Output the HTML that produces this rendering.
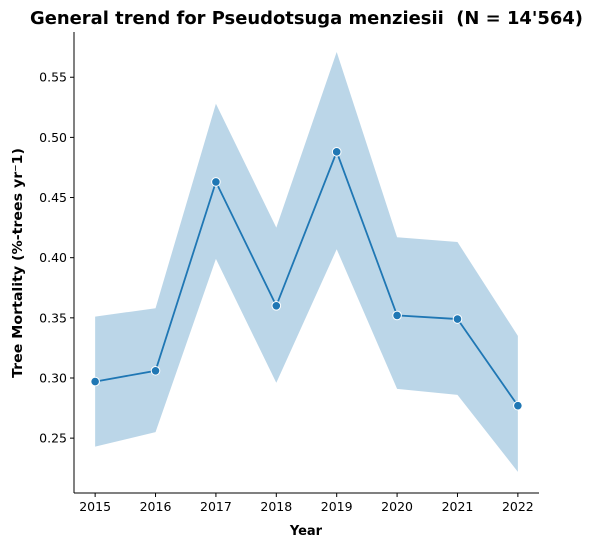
<!DOCTYPE html>
<html><head><meta charset="utf-8"><style>
body{margin:0;background:#fff;}
svg text{font-family:"DejaVu Sans","Liberation Sans",sans-serif;}
</style></head><body>
<svg id="chart" width="593" height="547" xmlns="http://www.w3.org/2000/svg">
<text x="30" y="24" font-size="17.5" font-weight="bold" textLength="553" lengthAdjust="spacingAndGlyphs" style="white-space:pre">General trend for Pseudotsuga menziesii  (N = 14'564)</text>
<g id="plot"></g>
<text x="306" y="535" text-anchor="middle" font-size="13" font-weight="bold">Year</text>
<text transform="translate(22,263) rotate(-90)" text-anchor="middle" font-size="13.5" font-weight="bold" textLength="230" lengthAdjust="spacingAndGlyphs">Tree Mortality (%-trees yr⁻1)</text>
</svg>
<script>
const years=[2015,2016,2017,2018,2019,2020,2021,2022];
const meanVals=[0.297,0.306,0.463,0.360,0.488,0.352,0.349,0.277];
const upperVals=[0.351,0.358,0.528,0.425,0.571,0.417,0.413,0.335];
const lowerVals=[0.243,0.255,0.399,0.296,0.407,0.291,0.286,0.222];
const yTicks=[0.25,0.30,0.35,0.40,0.45,0.50,0.55];
const yTickLabels=["0.25","0.30","0.35","0.40","0.45","0.50","0.55"];
const xTickLabels=["2015","2016","2017","2018","2019","2020","2021","2022"];

const L=74,R=539,T=32,B=493;
const xMin=2014.65,xMax=2022.35,yMin=0.2044,yMax=0.5876;
const xs=v=>L+(v-xMin)/(xMax-xMin)*(R-L);
const ys=v=>B-(v-yMin)/(yMax-yMin)*(B-T);
const NS="http://www.w3.org/2000/svg";
const g=document.getElementById('plot');
function mk(tag,attrs,parent){const e=document.createElementNS(NS,tag);for(const k in attrs)e.setAttribute(k,attrs[k]);(parent||g).appendChild(e);return e;}

let pts=years.map((y,i)=>xs(y)+','+ys(upperVals[i]));
pts=pts.concat(years.map((y,i)=>xs(y)+','+ys(lowerVals[i])).reverse());
const band=mk('polygon',{points:pts.join(' '),fill:'#1f77b4','fill-opacity':0.3,stroke:'none'});



const line=mk('polyline',{points:years.map((y,i)=>xs(y)+','+ys(meanVals[i])).join(' '),fill:'none',stroke:'#1f77b4','stroke-width':1.8});



years.forEach((y,i)=>{
  const c=mk('circle',{cx:xs(y),cy:ys(meanVals[i]),r:4.3,fill:'#1f77b4',stroke:'#fff','stroke-width':1});
  
  
});

const ax=mk('line',{x1:L,y1:T,x2:L,y2:B,stroke:'#000','stroke-width':1});


const bx=mk('line',{x1:L,y1:B,x2:R,y2:B,stroke:'#000','stroke-width':1});



yTicks.forEach((v,i)=>{
  mk('line',{x1:L-4,y1:ys(v),x2:L,y2:ys(v),stroke:'#000'});
  const t=mk('text',{x:L-7,y:ys(v)+4.5,'text-anchor':'end','font-size':12.5});
  t.textContent=yTickLabels[i];
  
  
});
years.forEach((y,i)=>{
  mk('line',{x1:xs(y),y1:B,x2:xs(y),y2:B+4,stroke:'#000'});
  const t=mk('text',{x:xs(y),y:B+18,'text-anchor':'middle','font-size':12.5});
  t.textContent=xTickLabels[i];
  
  
});
</script>
</body></html>
